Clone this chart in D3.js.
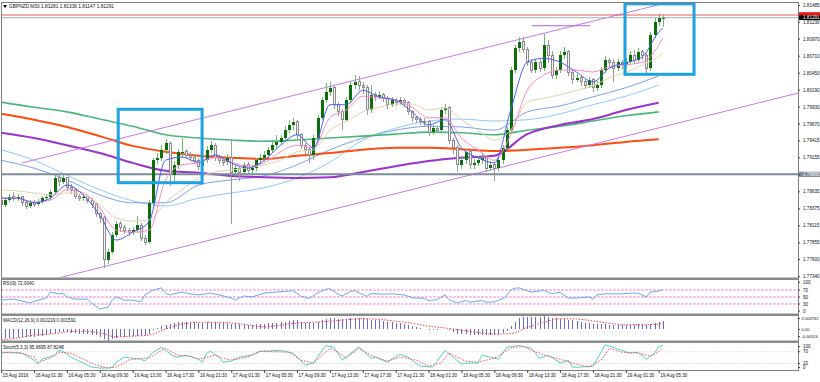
<!DOCTYPE html>
<html><head><meta charset="utf-8">
<script src="https://cdn.jsdelivr.net/npm/d3@7"></script>
<style>
html,body{margin:0;padding:0;background:#fff;}
svg{display:block;}
text{font-family:"Liberation Sans",Arial,sans-serif;}
</style></head><body>
<svg id="c" width="820" height="382"></svg>
<script>
// ---------- DATA ----------
const symbolTitle = "GBPNZD,M30 1.81281 1.81336 1.81147 1.81291";
const open = [1.7850,1.7843,1.7850,1.7855,1.7853,1.7855,1.7846,1.7841,1.7846,1.7844,
1.7847,1.7853,1.7855,1.7863,1.7884,1.7878,1.7884,1.7869,1.7866,1.7856,
1.7853,1.7855,1.7850,1.7843,1.7829,1.7823,1.7759,1.7771,1.7797,1.7814,
1.7808,1.7804,1.7801,1.7804,1.7812,1.7792,1.7786,1.7846,1.7911,1.7915,
1.7927,1.7937,1.7889,1.7904,1.7924,1.7924,1.7919,1.7915,1.7911,1.7902,
1.7911,1.7927,1.7934,1.7915,1.7911,1.7908,1.7915,1.7893,1.7899,1.7893,
1.7904,1.7896,1.7899,1.7911,1.7915,1.7919,1.7927,1.7934,1.7939,1.7945,
1.7957,1.7965,1.7970,1.7950,1.7934,1.7927,1.7919,1.7945,1.7976,1.8003,
1.8015,1.8022,1.7996,1.7985,1.7973,1.8003,1.8026,1.8031,1.8026,1.8022,
1.7988,1.8011,1.8008,1.8011,1.8006,1.7996,1.8003,1.8000,1.8003,1.7999,
1.7985,1.7976,1.7973,1.7971,1.7970,1.7954,1.7960,1.7957,1.7988,1.7991,
1.7942,1.7930,1.7904,1.7911,1.7924,1.7904,1.7907,1.7911,1.7915,1.7899,
1.7904,1.7899,1.7911,1.7930,1.7957,1.8049,1.8083,1.8092,1.8080,1.8061,
1.8049,1.8061,1.8052,1.8087,1.8072,1.8041,1.8049,1.8072,1.8077,1.8046,
1.8034,1.8037,1.8031,1.8026,1.8034,1.8022,1.8026,1.8049,1.8064,1.8061,
1.8052,1.8061,1.8057,1.8061,1.8072,1.8064,1.8077,1.8072,1.8052,1.8103,
1.8122,1.81281];
const close = [1.7843,1.7850,1.7855,1.7853,1.7855,1.7846,1.7841,1.7846,1.7844,1.7847,
1.7853,1.7855,1.7863,1.7884,1.7878,1.7884,1.7869,1.7866,1.7856,1.7853,
1.7855,1.7850,1.7843,1.7829,1.7823,1.7759,1.7771,1.7797,1.7814,1.7808,
1.7804,1.7801,1.7804,1.7812,1.7792,1.7786,1.7846,1.7911,1.7915,1.7927,
1.7937,1.7889,1.7904,1.7924,1.7924,1.7919,1.7915,1.7911,1.7902,1.7911,
1.7927,1.7934,1.7915,1.7911,1.7908,1.7915,1.7893,1.7899,1.7893,1.7904,
1.7896,1.7899,1.7911,1.7915,1.7919,1.7927,1.7934,1.7939,1.7945,1.7957,
1.7965,1.7970,1.7950,1.7934,1.7927,1.7919,1.7945,1.7976,1.8003,1.8015,
1.8022,1.7996,1.7985,1.7973,1.8003,1.8026,1.8031,1.8026,1.8022,1.7988,
1.8011,1.8008,1.8011,1.8006,1.7996,1.8003,1.8000,1.8003,1.7999,1.7985,
1.7976,1.7973,1.7971,1.7970,1.7954,1.7960,1.7957,1.7988,1.7991,1.7942,
1.7930,1.7904,1.7911,1.7924,1.7904,1.7907,1.7911,1.7915,1.7899,1.7904,
1.7899,1.7911,1.7930,1.7957,1.8049,1.8083,1.8092,1.8080,1.8061,1.8049,
1.8061,1.8052,1.8087,1.8072,1.8041,1.8049,1.8072,1.8077,1.8046,1.8034,
1.8037,1.8031,1.8026,1.8034,1.8022,1.8026,1.8049,1.8064,1.8061,1.8052,
1.8061,1.8057,1.8061,1.8072,1.8064,1.8077,1.8072,1.8052,1.8103,1.8122,
1.81281,1.81291];
const high = [1.7856,1.7853,1.7860,1.7862,1.7859,1.7857,1.7849,1.7850,1.7851,1.7852,
1.7857,1.7860,1.7866,1.7890,1.7889,1.7889,1.7886,1.7874,1.7869,1.7860,
1.7859,1.7857,1.7853,1.7845,1.7832,1.7826,1.7775,1.7801,1.7818,1.7818,
1.7812,1.7808,1.7809,1.7826,1.7815,1.7796,1.7850,1.7915,1.7922,1.7935,
1.7944,1.7940,1.7910,1.7928,1.7945,1.7929,1.7923,1.7920,1.7915,1.7916,
1.7933,1.7941,1.7937,1.7919,1.7916,1.7920,1.7942,1.7904,1.7903,1.7908,
1.7909,1.7904,1.7915,1.7920,1.7925,1.7931,1.7939,1.7949,1.7950,1.7963,
1.7972,1.7976,1.7973,1.7953,1.7938,1.7930,1.7949,1.7980,1.8008,1.8029,
1.8030,1.8025,1.8000,1.7990,1.8008,1.8032,1.8042,1.8040,1.8031,1.8026,
1.8026,1.8016,1.8017,1.8014,1.8009,1.8008,1.8006,1.8008,1.8006,1.8001,
1.7988,1.7979,1.7977,1.7976,1.7973,1.7965,1.7963,1.7992,1.7997,1.7994,
1.7945,1.7934,1.7918,1.7929,1.7927,1.7913,1.7918,1.7921,1.7918,1.7910,
1.7908,1.7915,1.7934,1.7962,1.8053,1.8088,1.8100,1.8099,1.8085,1.8066,
1.8066,1.8066,1.8104,1.8095,1.8078,1.8054,1.8078,1.8085,1.8080,1.8050,
1.8043,1.8040,1.8035,1.8039,1.8037,1.8032,1.8054,1.8070,1.8068,1.8066,
1.8066,1.8064,1.8067,1.8078,1.8080,1.8082,1.8080,1.8075,1.8107,1.8128,
1.8135,1.81336];
const low = [1.7838,1.7840,1.7847,1.7849,1.7848,1.7841,1.7836,1.7838,1.7840,1.7841,
1.7844,1.7849,1.7851,1.7860,1.7872,1.7874,1.7864,1.7860,1.7852,1.7848,
1.7849,1.7846,1.7838,1.7825,1.7815,1.7746,1.7752,1.7768,1.7793,1.7802,
1.7799,1.7795,1.7797,1.7800,1.7787,1.7782,1.7783,1.7842,1.7905,1.7910,
1.7920,1.7872,1.7875,1.7898,1.7915,1.7913,1.7908,1.7905,1.7896,1.7897,
1.7907,1.7922,1.7910,1.7905,1.7903,1.7904,1.7813,1.7888,1.7880,1.7889,
1.7890,1.7887,1.7895,1.7906,1.7910,1.7914,1.7922,1.7930,1.7934,1.7940,
1.7952,1.7958,1.7944,1.7928,1.7920,1.7907,1.7912,1.7940,1.7972,1.7998,
1.8010,1.7990,1.7978,1.7957,1.7970,1.7998,1.8020,1.8018,1.8012,1.7980,
1.7984,1.8002,1.8004,1.8000,1.7990,1.7992,1.7994,1.7996,1.7993,1.7980,
1.7970,1.7968,1.7965,1.7962,1.7948,1.7950,1.7952,1.7954,1.7982,1.7936,
1.7920,1.7893,1.7898,1.7906,1.7897,1.7898,1.7902,1.7905,1.7893,1.7895,
1.7880,1.7894,1.7906,1.7926,1.7952,1.8044,1.8076,1.8075,1.8055,1.8044,
1.8044,1.8046,1.8048,1.8060,1.8036,1.8036,1.8044,1.8066,1.8040,1.8028,
1.8030,1.8025,1.8020,1.8022,1.8016,1.8017,1.8022,1.8045,1.8055,1.8031,
1.8048,1.8051,1.8052,1.8057,1.8059,1.8060,1.8065,1.8045,1.8048,1.8098,
1.8116,1.81147];

// moving averages read at sample bars
const fastBars = [0,4,8,12,16,20,24,28,32,36,40,44,48,52,56,60,64,68,72,76,80,84,88,92,96,100,104,108,112,116,120,124,128,132,136,140,144,148,152,156,160,161];
const maBlue = [1.7853,1.7853,1.7846,1.7853,1.7873,1.7858,1.7827,1.7789,1.7801,1.7817,1.7911,1.7916,1.7908,1.7919,1.7907,1.7899,1.7911,1.7934,1.7950,1.7930,1.7996,1.7996,1.8018,1.8008,1.8003,1.7985,1.7965,1.7973,1.7930,1.7915,1.7907,1.7988,1.8061,1.8067,1.8061,1.8046,1.8031,1.8052,1.8060,1.8069,1.8107,1.8113];
const maPink = [1.7853,1.7853,1.7847,1.7850,1.7866,1.7861,1.7838,1.7804,1.7801,1.7804,1.7881,1.7904,1.7907,1.7915,1.7908,1.7902,1.7907,1.7924,1.7934,1.7930,1.7976,1.7988,1.8009,1.8006,1.8003,1.7992,1.7976,1.7976,1.7945,1.7927,1.7911,1.7950,1.8018,1.8041,1.8049,1.8049,1.8046,1.8054,1.8057,1.8061,1.8087,1.8098];
const maTan = [1.7866,1.7864,1.7861,1.7858,1.7861,1.7858,1.7843,1.7823,1.7818,1.7820,1.7846,1.7866,1.7884,1.7893,1.7896,1.7899,1.7904,1.7911,1.7924,1.7927,1.7957,1.7970,1.7985,1.7992,1.7997,1.7997,1.7988,1.7991,1.7973,1.7957,1.7942,1.7957,1.8000,1.8006,1.8011,1.8018,1.8025,1.8037,1.8046,1.8057,1.8070,1.8075];
const slowBars = [0,8,16,24,32,40,48,56,64,72,80,88,96,104,112,120,128,136,144,152,160];
const maGreen  = [1.8000,1.7992,1.7985,1.7974,1.7963,1.7950,1.7945,1.7942,1.7940,1.7942,1.7945,1.7948,1.7951,1.7954,1.7953,1.7950,1.7957,1.7963,1.7971,1.7979,1.7985];
const maOrange = [1.7982,1.7973,1.7962,1.7948,1.7933,1.7924,1.7918,1.7915,1.7913,1.7918,1.7922,1.7927,1.7930,1.7930,1.7928,1.7925,1.7927,1.7930,1.7934,1.7939,1.7943];
const maPurple = [1.7953,1.7945,1.7934,1.7922,1.7907,1.7895,1.7892,1.7887,1.7885,1.7884,1.7885,1.7893,1.7902,1.7910,1.7915,1.7918,1.7951,1.7965,1.7974,1.7988,1.7999];
const maSky    = [1.7927,1.7911,1.7888,1.7866,1.7849,1.7841,1.7853,1.7861,1.7869,1.7884,1.7908,1.7942,1.7960,1.7971,1.7974,1.7971,1.7973,1.7982,1.7996,1.8009,1.8026];
const maCorn   = [1.7911,1.7899,1.7881,1.7858,1.7846,1.7846,1.7873,1.7881,1.7887,1.7904,1.7927,1.7945,1.7957,1.7963,1.7962,1.7957,1.7985,1.7994,1.8008,1.8022,1.8040];

// drawn objects: [bar, price] endpoints
const channelUpper = [[5.1,1.7907],[194,1.8202]];
const channelLower = [[14,1.7731],[194,1.8014]];
const shortLine = [[129.2,1.81168],[143.3,1.81168]];
const box1 = {b0:28.5,b1:48.9,p0:1.78767,p1:1.79890};
const box2 = {b0:151.8,b1:168.6,p0:1.80425,p1:1.81503};
const hLevel = 1.78895;
const bidPrice = 1.81291, askPrice = 1.81332;

// axes
const priceTicks = [1.81485,1.81230,1.80970,1.80710,1.80450,1.80190,1.79930,1.79670,1.79415,1.79155,1.78895,1.78635,1.78375,1.78115,1.77855,1.77600,1.77340];
const timeLabelBars = [0,8,16,24,32,40,48,56,64,72,80,88,96,104,112,120,128,136,144,152,160];
const timeLabels = ["15 Aug 2016","16 Aug 01:30","16 Aug 05:30","16 Aug 09:30","16 Aug 13:30","16 Aug 17:30","16 Aug 21:30","17 Aug 01:30","17 Aug 05:30","17 Aug 09:30","17 Aug 13:30","17 Aug 17:30","17 Aug 21:30","18 Aug 01:30","18 Aug 05:30","18 Aug 09:30","18 Aug 13:30","18 Aug 17:30","18 Aug 21:30","19 Aug 01:30","19 Aug 05:30"];

// RSI
const rsiTitle = "RSI(9) 72.0040";
const rsiBars = [0,3,7,9,11,12,14,15,16,18,21,22,24,26,27,28,30,32,34,35,37,39,40,41,44,46,48,51,53,56,57,59,61,64,66,69,71,73,75,77,79,80,82,83,85,86,89,90,93,95,98,100,103,104,106,108,109,111,113,114,117,118,120,122,123,124,125,126,129,131,132,134,136,138,140,143,144,145,147,151,153,155,157,158,160,161];
const rsiVals = [41,44,33,41,47,64,59,61,50,44,44,33,16,21,41,50,41,41,36,56,70,76,61,56,64,59,56,61,56,47,41,53,50,61,63,66,68,52,46,62,72,74,58,53,66,68,52,60,58,59,56,48,46,40,42,56,42,33,40,35,40,35,36,45,53,70,75,76,64,67,70,59,64,47,47,50,44,56,59,59,61,61,50,64,67,72.004];
const rsiLevels = [70,50,30];
const rsiAxis = [100,70,50,30,0];

// MACD
const macdTitle = "MACD(12,26,9) 0.002219 0.001591";
const macdMain = [-0.0025,-0.0024,-0.0023,-0.0023,-0.0022,-0.0022,-0.0022,-0.0021,-0.0020,-0.0019,-0.0018,-0.0016,-0.0014,
-0.0009,-0.0008,-0.0007,-0.0008,-0.0009,
-0.0011,-0.0012,-0.0013,-0.0014,-0.0015,-0.0017,
-0.0020,-0.0027,-0.0032,-0.0027,-0.0024,
-0.0022,-0.0021,-0.0020,-0.0019,-0.0018,-0.0018,-0.0017,-0.0012,
-0.0002,0.0005,0.0009,0.0013,
0.0016,0.0018,0.0020,0.0021,0.0021,0.0021,0.0020,0.0019,
0.0019,0.0020,0.0021,0.0020,0.0019,0.0018,0.0018,0.0016,0.0015,0.0014,0.0014,0.0013,0.0013,0.0014,0.0015,0.0016,0.0017,
0.0018,0.0019,0.0020,0.0022,0.0024,0.0026,0.0025,0.0022,0.0019,0.0017,0.0018,0.0021,0.0025,0.0029,0.0032,0.0031,0.0030,0.0028,0.0029,0.0031,0.0033,
0.0033,0.0032,0.0028,0.0027,0.0026,0.0025,0.0023,0.0021,0.0020,0.0018,0.0017,0.0015,0.0012,0.0009,
0.0006,0.0004,0.0002,-0.0001,-0.0002,-0.0003,0.0000,0.0002,-0.0003,-0.0007,-0.0012,-0.0014,-0.0014,-0.0016,-0.0017,-0.0017,-0.0016,-0.0017,-0.0017,-0.0017,-0.0015,-0.0011,-0.0005,
0.0010,0.0022,0.0031,0.0035,0.0036,0.0036,0.0036,0.0035,0.0037,0.0036,0.0033,0.0031,
0.0030,0.0029,0.0027,0.0025,0.0023,0.0021,0.0019,0.0018,0.0016,0.0014,0.0014,
0.0014,0.0013,0.0012,0.0012,0.0012,0.0012,0.0013,0.0013,0.0014,0.0014,0.0012,0.0015,0.0018,0.0020,0.002219];
const macdSignal = [-0.0030,-0.0024,-0.0016,-0.0013,-0.0007,-0.0005,-0.0010,-0.0021,-0.0019,-0.0016,0.0001,0.0015,0.0020,0.0020,0.0018,0.0013,0.0007,0.0012,0.0018,0.0020,0.0023,0.0027,0.0030,0.0028,0.0023,0.0017,0.0009,0.0004,-0.0002,-0.0009,-0.0013,-0.0012,0.0005,0.0020,0.0030,0.0029,0.0024,0.0017,0.0013,0.0013,0.0015,0.001591];
const macdAxis = [["0.003762",0.003762],["0.00",0],["-0.00326",-0.00326]];

// Stochastic
const stochTitle = "Stoch(5,3,3) 95.9695 87.8248";
const stochKBars = [0,2,5,6,8,9,10,13,14,15,17,20,22,24,26,27,28,30,32,34,35,37,39,40,42,43,45,48,49,50,51,53,54,56,58,61,63,68,71,74,76,79,81,83,87,88,90,91,94,97,99,102,105,108,112,113,116,117,121,123,126,129,131,133,134,136,138,139,141,144,147,151,153,155,157,159,160,161];
const stochK = [64,68,64,55,34,17,38,55,76,72,47,21,4,0,0,2,25,47,42,38,30,68,89,76,51,47,55,38,25,64,72,47,25,30,47,55,72,76,64,13,21,97,89,34,89,76,42,47,25,59,47,8,4,76,17,21,21,55,38,89,97,85,42,55,47,21,34,4,4,8,100,76,64,68,38,64,93,95.9695];
const stochDBars = [0,5,8,9,12,14,17,20,23,26,28,31,34,36,39,40,43,46,48,52,54,56,60,63,70,73,76,80,82,84,87,90,94,97,101,104,107,109,113,116,120,124,127,129,133,136,139,143,146,148,151,155,158,160,161];
const stochD = [68,64,47,25,42,68,64,38,13,0,4,34,42,42,76,85,55,51,38,55,42,34,47,72,68,34,21,85,68,42,85,55,30,47,34,8,21,64,30,25,42,85,93,76,51,38,21,4,34,85,68,64,51,70,87.8248];
const stochLevels = [70,20];
const stochAxis = [100,70,20,0];

// ---------- SCALES ----------
const svg = d3.select("#c");
const x = d3.scaleLinear().domain([0,194]).range([1.1, 1.1 + 4.11*194]);
const yMain = d3.scaleLinear().domain([1.77340,1.81485]).range([276,5]);
const yRsi = d3.scaleLinear().domain([0,100]).range([314.5,279.5]);
const yMacd = d3.scaleLinear().domain([-0.00326,0.003762]).range([341,316]);
const ySto = d3.scaleLinear().domain([0,100]).range([368,344.8]);
const FS = 4.6;

const defs = svg.append("defs");
function clip(id,y0,y1){defs.append("clipPath").attr("id",id).append("rect").attr("x",1.5).attr("y",y0).attr("width",796.5).attr("height",y1-y0);}
clip("cMain",2.5,277.5); clip("cRsi",280.5,313.5); clip("cMacd",316,341); clip("cSto",343.5,370);

svg.append("rect").attr("width",820).attr("height",382).attr("fill","#fff");

// ---------- MAIN PANEL ----------
const main = svg.append("g").attr("clip-path","url(#cMain)");
const lineXY = (bars,vals,ys,curve)=>d3.line().x((d,i)=>x(bars[i])).y(d=>ys(d)).curve(curve||d3.curveMonotoneX)(vals);
function maPath(bars,vals,color,w){main.append("path").attr("d",lineXY(bars,vals,yMain)).attr("fill","none").attr("stroke",color).attr("stroke-width",w);}

maPath(slowBars,maSky,"#8ccbf6",1);
maPath(slowBars,maCorn,"#7a9ff0",1);
maPath(slowBars,maGreen,"#4bb57a",1.6);
maPath(slowBars,maOrange,"#ff4a10",2);
maPath(slowBars,maPurple,"#9a32cc",2);

// channel / drawn lines
const seg = (pts,color,w)=>main.append("line").attr("x1",x(pts[0][0])).attr("y1",yMain(pts[0][1])).attr("x2",x(pts[1][0])).attr("y2",yMain(pts[1][1])).attr("stroke",color).attr("stroke-width",w);
seg(channelUpper,"#c77af0",1);
seg(channelLower,"#c77af0",1);
seg(shortLine,"#b45cf0",1);

// horizontal level line
main.append("line").attr("x1",1.5).attr("x2",798).attr("y1",yMain(hLevel)).attr("y2",yMain(hLevel)).attr("stroke","#7d8b9b").attr("stroke-width",2);

// candles
const cg = main.append("g").attr("shape-rendering","crispEdges");
close.forEach((c,i)=>{
  const o = open[i], bull = c >= o;
  const cx = Math.round(x(i)) + 0.5;
  cg.append("line").attr("x1",cx).attr("x2",cx).attr("y1",yMain(high[i])).attr("y2",yMain(low[i]))
    .attr("stroke",bull?"#6cbb6c":"#9a9a9a");
  const top = yMain(Math.max(o,c)), bot = yMain(Math.min(o,c));
  if(bull){
    cg.append("rect").attr("x",cx-1.5).attr("y",top).attr("width",3).attr("height",Math.max(1,bot-top)).attr("fill","#0b6e0b");
  } else {
    cg.append("rect").attr("x",cx-1).attr("y",top).attr("width",2).attr("height",Math.max(1,bot-top)).attr("fill","#f4f4f4").attr("stroke","#8a8a8a");
  }
});

maPath(fastBars,maTan,"#e2d2ab",1);
maPath(fastBars,maPink,"#ff86c6",1);
maPath(fastBars,maBlue,"#4a5ef2",1);

// bid / ask
main.append("line").attr("x1",1.5).attr("x2",798).attr("y1",yMain(askPrice)).attr("y2",yMain(askPrice)).attr("stroke","#e85a5a").attr("stroke-width",1);
main.append("line").attr("x1",1.5).attr("x2",798).attr("y1",yMain(bidPrice)).attr("y2",yMain(bidPrice)).attr("stroke","#a4b0bb").attr("stroke-width",1);

// boxes
[box1,box2].forEach(b=>{
  main.append("rect").attr("x",x(b.b0)).attr("y",yMain(b.p1)).attr("width",x(b.b1)-x(b.b0)).attr("height",yMain(b.p0)-yMain(b.p1))
    .attr("fill","none").attr("stroke","#1aa2e2").attr("stroke-width",3);
});

// ---------- RSI ----------
const rsiG = svg.append("g").attr("clip-path","url(#cRsi)");
rsiLevels.forEach(v=>rsiG.append("line").attr("x1",1.5).attr("x2",798).attr("y1",yRsi(v)).attr("y2",yRsi(v)).attr("stroke","#ff4cc4").attr("stroke-dasharray","2,2"));
rsiG.append("path").attr("d",lineXY(rsiBars,rsiVals,yRsi,d3.curveLinear)).attr("fill","none").attr("stroke","#62aaf2").attr("stroke-width",1);

// ---------- MACD ----------
const macdG = svg.append("g").attr("clip-path","url(#cMacd)").attr("shape-rendering","crispEdges");
macdMain.forEach((v,i)=>{
  const cx = Math.round(x(i)) + 0.5;
  macdG.append("line").attr("x1",cx).attr("x2",cx).attr("y1",yMacd(0)).attr("y2",yMacd(v)).attr("stroke","#6a6acb");
});
svg.append("g").attr("clip-path","url(#cMacd)").append("path").attr("d",lineXY(fastBars,macdSignal,yMacd)).attr("fill","none").attr("stroke","#ff3a3a").attr("stroke-dasharray","1.5,1.5");

// ---------- STOCH ----------
const stoG = svg.append("g").attr("clip-path","url(#cSto)");
stochLevels.forEach(v=>stoG.append("line").attr("x1",1.5).attr("x2",798).attr("y1",ySto(v)).attr("y2",ySto(v)).attr("stroke","#c8c8c8").attr("stroke-dasharray","1,2"));
stoG.append("path").attr("d",lineXY(stochKBars,stochK,ySto,d3.curveLinear)).attr("fill","none").attr("stroke","#4fd2c6").attr("stroke-width",1);
stoG.append("path").attr("d",lineXY(stochDBars,stochD,ySto,d3.curveLinear)).attr("fill","none").attr("stroke","#ff4a4a").attr("stroke-dasharray","1.5,1.5");

// ---------- FRAMES ----------
const frame = svg.append("g").attr("fill","none").attr("stroke","#7f7f7f").attr("shape-rendering","crispEdges");
frame.append("rect").attr("x",1.5).attr("y",2.5).attr("width",796.5).attr("height",367.5);
[[277.5,2.5],[313.5,2.5],[340.5,2.5]].forEach(s=>svg.append("rect").attr("x",1).attr("y",s[0]).attr("width",798).attr("height",s[1]).attr("fill","#8a8a8a"));

// ---------- AXES ----------
const rAx = svg.append("g").attr("transform","translate(798,0)")
  .call(d3.axisRight(yMain).tickValues(priceTicks).tickSize(2).tickPadding(3).tickFormat(d3.format(".5f")));
rAx.select(".domain").remove();
rAx.selectAll("line").attr("stroke","#444");
rAx.selectAll("text").attr("font-size",FS).attr("font-family","Liberation Sans, Arial, sans-serif").attr("fill",d=>d===hLevel?"#fff":"#111");
rAx.insert("rect",":first-child").attr("x",1).attr("y",yMain(hLevel)-2.6).attr("width",22).attr("height",5.2).attr("fill","#7c8a9c");

// bid/ask labels
const lab = svg.append("g");
lab.append("rect").attr("x",799).attr("y",yMain(askPrice)-2.8).attr("width",21).attr("height",5).attr("fill","#ee1111");
lab.append("rect").attr("x",799).attr("y",yMain(bidPrice)-2.4).attr("width",21).attr("height",4.8).attr("fill","#000");
lab.append("text").attr("x",803).attr("y",yMain(bidPrice)+1.6).attr("font-size",FS).attr("fill","#fff").text(d3.format(".5f")(bidPrice));

// sub-panel axis labels
const subLab = svg.append("g").attr("font-size",FS).attr("fill","#111");
rsiAxis.forEach(v=>{
  const yy = Math.min(311,Math.max(282.3,yRsi(v)));
  subLab.append("line").attr("x1",798).attr("x2",800).attr("y1",yy).attr("y2",yy).attr("stroke","#444");
  subLab.append("text").attr("x",803).attr("y",yy+1.6).text(v);
});
macdAxis.forEach(([t,v])=>{
  const yy = Math.min(336.5,Math.max(318.5,yMacd(v)));
  subLab.append("line").attr("x1",798).attr("x2",800).attr("y1",yy).attr("y2",yy).attr("stroke","#444");
  subLab.append("text").attr("x",801.5).attr("y",yy+1.5).attr("font-size",4.1).text(t);
});
stochAxis.forEach(v=>{
  const yy = Math.min(367.5,Math.max(346.6,ySto(v)));
  subLab.append("line").attr("x1",798).attr("x2",800).attr("y1",yy).attr("y2",yy).attr("stroke","#444");
  subLab.append("text").attr("x",803).attr("y",yy+1.6).text(v);
});

// time axis
const bAx = svg.append("g").attr("transform","translate(0,370)")
  .call(d3.axisBottom(x).tickValues(timeLabelBars).tickSize(3).tickFormat((d,i)=>timeLabels[i]));
bAx.select(".domain").remove();
bAx.selectAll("line").attr("stroke","#444");
bAx.selectAll("text").attr("font-size",FS).attr("font-family","Liberation Sans, Arial, sans-serif").attr("fill","#111")
  .attr("text-anchor","start").attr("x",1).attr("y",4.2);

// titles
svg.append("path").attr("d","M3,5 L7,5 L5,8 Z").attr("fill","#000");
svg.append("text").attr("x",9).attr("y",7.6).attr("font-size",4.8).attr("fill","#111").text(symbolTitle);
svg.append("text").attr("x",3).attr("y",285.2).attr("font-size",FS).attr("fill","#111").text(rsiTitle);
svg.append("text").attr("x",3).attr("y",322.4).attr("font-size",FS).attr("fill","#111").text(macdTitle);
svg.append("text").attr("x",3).attr("y",349.2).attr("font-size",FS).attr("fill","#111").text(stochTitle);
</script>
</body></html>
